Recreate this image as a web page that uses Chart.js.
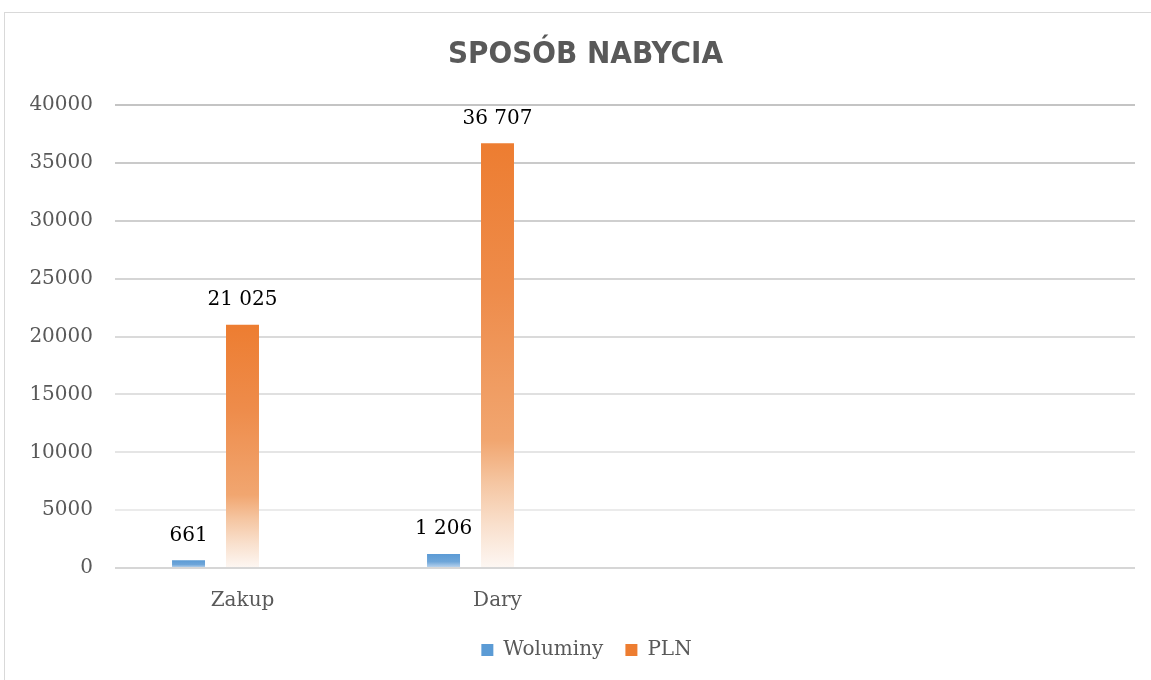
<!DOCTYPE html>
<html>
<head>
<meta charset="utf-8">
<script src="https://cdn.jsdelivr.net/npm/chart.js@4.4.1/dist/chart.umd.min.js"></script>
<style>
  html, body { margin: 0; padding: 0; background: #fff; overflow: hidden; }
  #frame { position: absolute; left: 4px; top: 12px; width: 1160px; height: 680px; border: 1px solid #d9d9d9; box-sizing: border-box; }
  #wrap { position: absolute; left: 1px; top: 1px; width: 1146px; height: 667px; }
</style>
</head>
<body>
<div id="frame"><div id="wrap"><canvas id="c" width="1146" height="667"></canvas></div></div>
<script>
const categories = ['Zakup', 'Dary', '', ''];
const woluminy = [661, 1206, null, null];
const pln = [21025, 36707, null, null];
const extra = [null, null, null, null];
const yTicks = [0, 5000, 10000, 15000, 20000, 25000, 30000, 35000, 40000];

const SERIF = '"DejaVu Serif", serif';

function barGradient(stops) {
  return function (ctx) {
    const chart = ctx.chart;
    const y = chart.scales && chart.scales.y;
    if (!y || ctx.raw == null || !isFinite(y.top)) return stops[0][1];
    const top = y.getPixelForValue(ctx.raw);
    const base = y.getPixelForValue(0);
    if (!isFinite(top) || !isFinite(base) || base - top < 1) return stops[0][1];
    const g = chart.ctx.createLinearGradient(0, top, 0, base);
    stops.forEach(s => g.addColorStop(s[0], s[1]));
    return g;
  };
}

const blueStops = [[0, '#5b9bd5'], [0.55, '#6fa6d9'], [1, '#c4daf0']];
const orangeStops = [[0, '#ed7d31'], [0.35, '#ee8c4b'], [0.7, '#f1a670'], [0.8, '#f5c6a2'], [0.9, '#f9e0cd'], [1, '#fdf7f3']];

function fmt(v) {
  return String(v).replace(/\B(?=(\d{3})+(?!\d))/g, ' ');
}

const valueLabels = {
  id: 'valueLabels',
  afterDatasetsDraw(chart) {
    const ctx = chart.ctx;
    ctx.save();
    ctx.font = '20px ' + SERIF;
    ctx.fillStyle = '#000000';
    ctx.textAlign = 'center';
    ctx.textBaseline = 'middle';
    [0, 1].forEach(di => {
      const meta = chart.getDatasetMeta(di);
      meta.data.forEach((el, i) => {
        const v = chart.data.datasets[di].data[i];
        if (v == null) return;
        ctx.fillText(fmt(v), el.x, el.y - 25);
      });
    });
    ctx.restore();
  }
};

// Center title and legend like the original (slightly right of canvas center)
const shiftBlocks = {
  id: 'shiftBlocks',
  afterLayout(chart) {
    if (chart.titleBlock) { chart.titleBlock.left += 15; chart.titleBlock.right += 15; }
    if (chart.legend) { chart.legend.left += 16; chart.legend.right += 16; }
  }
};

function gridColor(ctx) {
  const v = ctx.tick ? ctx.tick.value : 0;
  if (v === 0) return '#d6d6d6';
  const t = v / 40000;
  const c = Math.round(240 - t * 44);
  return 'rgb(' + c + ',' + c + ',' + c + ')';
}

new Chart(document.getElementById('c'), {
  type: 'bar',
  data: {
    labels: categories,
    datasets: [
      { label: 'Woluminy', data: woluminy, backgroundColor: barGradient(blueStops), legendColor: '#5b9bd5' },
      { label: 'PLN', data: pln, backgroundColor: barGradient(orangeStops), legendColor: '#ed7d31' },
      { label: '', data: extra, backgroundColor: '#a5a5a5', legendColor: '#a5a5a5' }
    ]
  },
  options: {
    responsive: false,
    animation: false,
    devicePixelRatio: 1,
    layout: { padding: { left: 0, right: 17, top: 0, bottom: 11 } },
    datasets: { bar: { categoryPercentage: 0.635, barPercentage: 0.611 } },
    plugins: {
      title: {
        display: true,
        text: 'SPOSÓB NABYCIA',
        color: '#595959',
        font: { family: '"DejaVu Sans Condensed", "DejaVu Sans", sans-serif', size: 31, weight: 'bold' },
        padding: { top: 22, bottom: 32 }
      },
      legend: {
        position: 'bottom',
        labels: {
          color: '#595959',
          font: { family: SERIF, size: 20 },
          boxWidth: 12,
          boxHeight: 12,
          padding: 22,
          filter: item => item.text !== '',
          generateLabels(chart) {
            return chart.data.datasets.map((ds, i) => ({
              text: ds.label,
              fillStyle: ds.legendColor,
              strokeStyle: ds.legendColor,
              lineWidth: 0,
              datasetIndex: i,
              hidden: false,
              fontColor: '#595959'
            }));
          }
        }
      },
      tooltip: { enabled: false }
    },
    scales: {
      x: {
        grid: { display: false, drawTicks: false },
        border: { display: false },
        ticks: { color: '#595959', font: { family: SERIF, size: 20 }, padding: 21 },
        afterFit(scale) { scale.height = 50; }
      },
      y: {
        min: 0,
        max: 40000,
        afterBuildTicks(scale) { scale.ticks = yTicks.map(v => ({ value: v })); },
        grid: { color: gridColor, lineWidth: 2, drawTicks: false },
        border: { display: false },
        ticks: { color: '#595959', font: { family: SERIF, size: 20 }, padding: 22, callback: v => String(v) },
        afterFit(scale) { scale.width = 109; }
      }
    }
  },
  plugins: [valueLabels, shiftBlocks]
});
</script>
</body>
</html>
